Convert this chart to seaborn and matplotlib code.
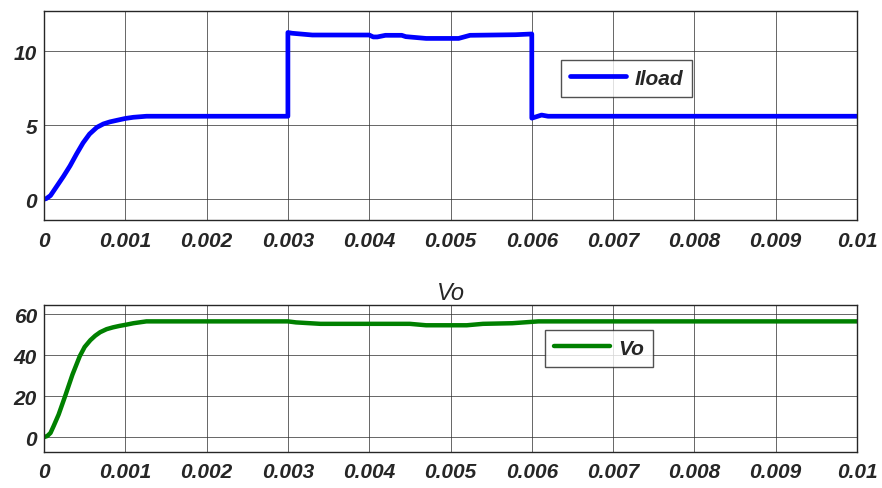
import matplotlib
matplotlib.use("Agg")
import matplotlib.pyplot as plt
import seaborn as sns
import pandas as pd

# ---- data ----
t_iload = [0, 0.00003, 0.00008, 0.00016, 0.00024, 0.00032, 0.0004, 0.00048, 0.00056, 0.00065,
           0.00073, 0.00081, 0.0009, 0.001, 0.0011, 0.00126, 0.003, 0.003, 0.00305, 0.0033,
           0.0040, 0.00405, 0.0041, 0.0042, 0.0044, 0.00445, 0.0047, 0.0051, 0.00524, 0.0058,
           0.006, 0.006, 0.00612, 0.0062, 0.01]
v_iload = [0, 0.05, 0.25, 0.9, 1.55, 2.25, 3.05, 3.8, 4.4, 4.85,
           5.08, 5.22, 5.33, 5.45, 5.53, 5.6, 5.6, 11.25, 11.2, 11.08,
           11.08, 10.95, 10.95, 11.06, 11.06, 10.97, 10.85, 10.85, 11.06, 11.1,
           11.15, 5.47, 5.68, 5.6, 5.6]

t_vo = [0, 0.00004, 0.00008, 0.00012, 0.00018, 0.00026, 0.00035, 0.00044, 0.0005, 0.00057,
        0.00063, 0.00069, 0.00077, 0.00085, 0.00093, 0.001, 0.0011, 0.00126, 0.003, 0.0031,
        0.0034, 0.0045, 0.0047, 0.0052, 0.0054, 0.00576, 0.00608, 0.01]
v_vo = [0, 0.5, 2, 5.5, 11, 20, 30.5, 39.5, 44, 47.3,
        49.5, 51.2, 52.7, 53.6, 54.3, 54.8, 55.6, 56.5, 56.5, 56.0,
        55.3, 55.3, 54.6, 54.6, 55.3, 55.6, 56.5, 56.5]

xticks = [0, 0.001, 0.002, 0.003, 0.004, 0.005, 0.006, 0.007, 0.008, 0.009, 0.01]
xtick_labels = ["0", "0.001", "0.002", "0.003", "0.004", "0.005", "0.006", "0.007", "0.008", "0.009", "0.01"]
yticks_top = [0, 5, 10]
yticks_bot = [0, 20, 40, 60]

df_i = pd.DataFrame({"t": t_iload, "v": v_iload, "s": "Iload"})
df_v = pd.DataFrame({"t": t_vo, "v": v_vo, "s": "Vo"})

sns.set_style("white")
plt.rcParams['font.family'] = ['Liberation Sans', 'DejaVu Sans']

fig = plt.figure(figsize=(8.82, 4.89), dpi=100)
ax1 = fig.add_axes([44/882, 1-221/489, (857-44)/882, (221-12)/489])
ax2 = fig.add_axes([44/882, 1-453/489, (857-44)/882, (453-306)/489])

sns.lineplot(data=df_i, x="t", y="v", hue="s", palette=["#0000ff"], ax=ax1,
             linewidth=3.4, estimator=None, sort=False)
sns.lineplot(data=df_v, x="t", y="v", hue="s", palette=["#008000"], ax=ax2,
             linewidth=3.2, estimator=None, sort=False)

for ax, yt, ylim in [(ax1, yticks_top, (-1.4, 12.7)), (ax2, yticks_bot, (-7.3, 64.5))]:
    ax.set_xlim(0, 0.01)
    ax.set_ylim(*ylim)
    ax.set_xticks(xticks)
    ax.set_xticklabels(xtick_labels)
    ax.set_yticks(yt)
    ax.set_yticklabels([str(v) for v in yt])
    ax.grid(True, color="#333333", linewidth=0.7, alpha=0.75)
    ax.set_xlabel("")
    ax.set_ylabel("")
    for sp in ax.spines.values():
        sp.set_color("#262626")
        sp.set_linewidth(1.0)
    ax.tick_params(axis="both", length=0, pad=5, labelsize=15, labelcolor="#262626")
    for lab in ax.get_xticklabels() + ax.get_yticklabels():
        lab.set_fontweight("bold")
        lab.set_fontstyle("italic")

ax1.tick_params(axis="x", pad=8)
ax2.tick_params(axis="x", pad=7)

leg_kw = dict(loc="upper left", frameon=True, fancybox=False, edgecolor="#262626",
              handlelength=2.7, prop={"weight": "bold", "style": "italic", "size": 15},
              borderpad=0.42, handletextpad=0.4, borderaxespad=0)
leg1 = ax1.legend(bbox_to_anchor=((561-44)/813, 1-(61-12)/209), **leg_kw)
leg1.get_frame().set_linewidth(1.0)
leg2 = ax2.legend(bbox_to_anchor=((545-44)/813, 1-(331-306)/147), **leg_kw)
leg2.get_frame().set_linewidth(1.0)

ax2.set_title("Vo", fontsize=17, fontstyle="italic", color="#262626", pad=4)

fig.savefig("out.png", dpi=100)
